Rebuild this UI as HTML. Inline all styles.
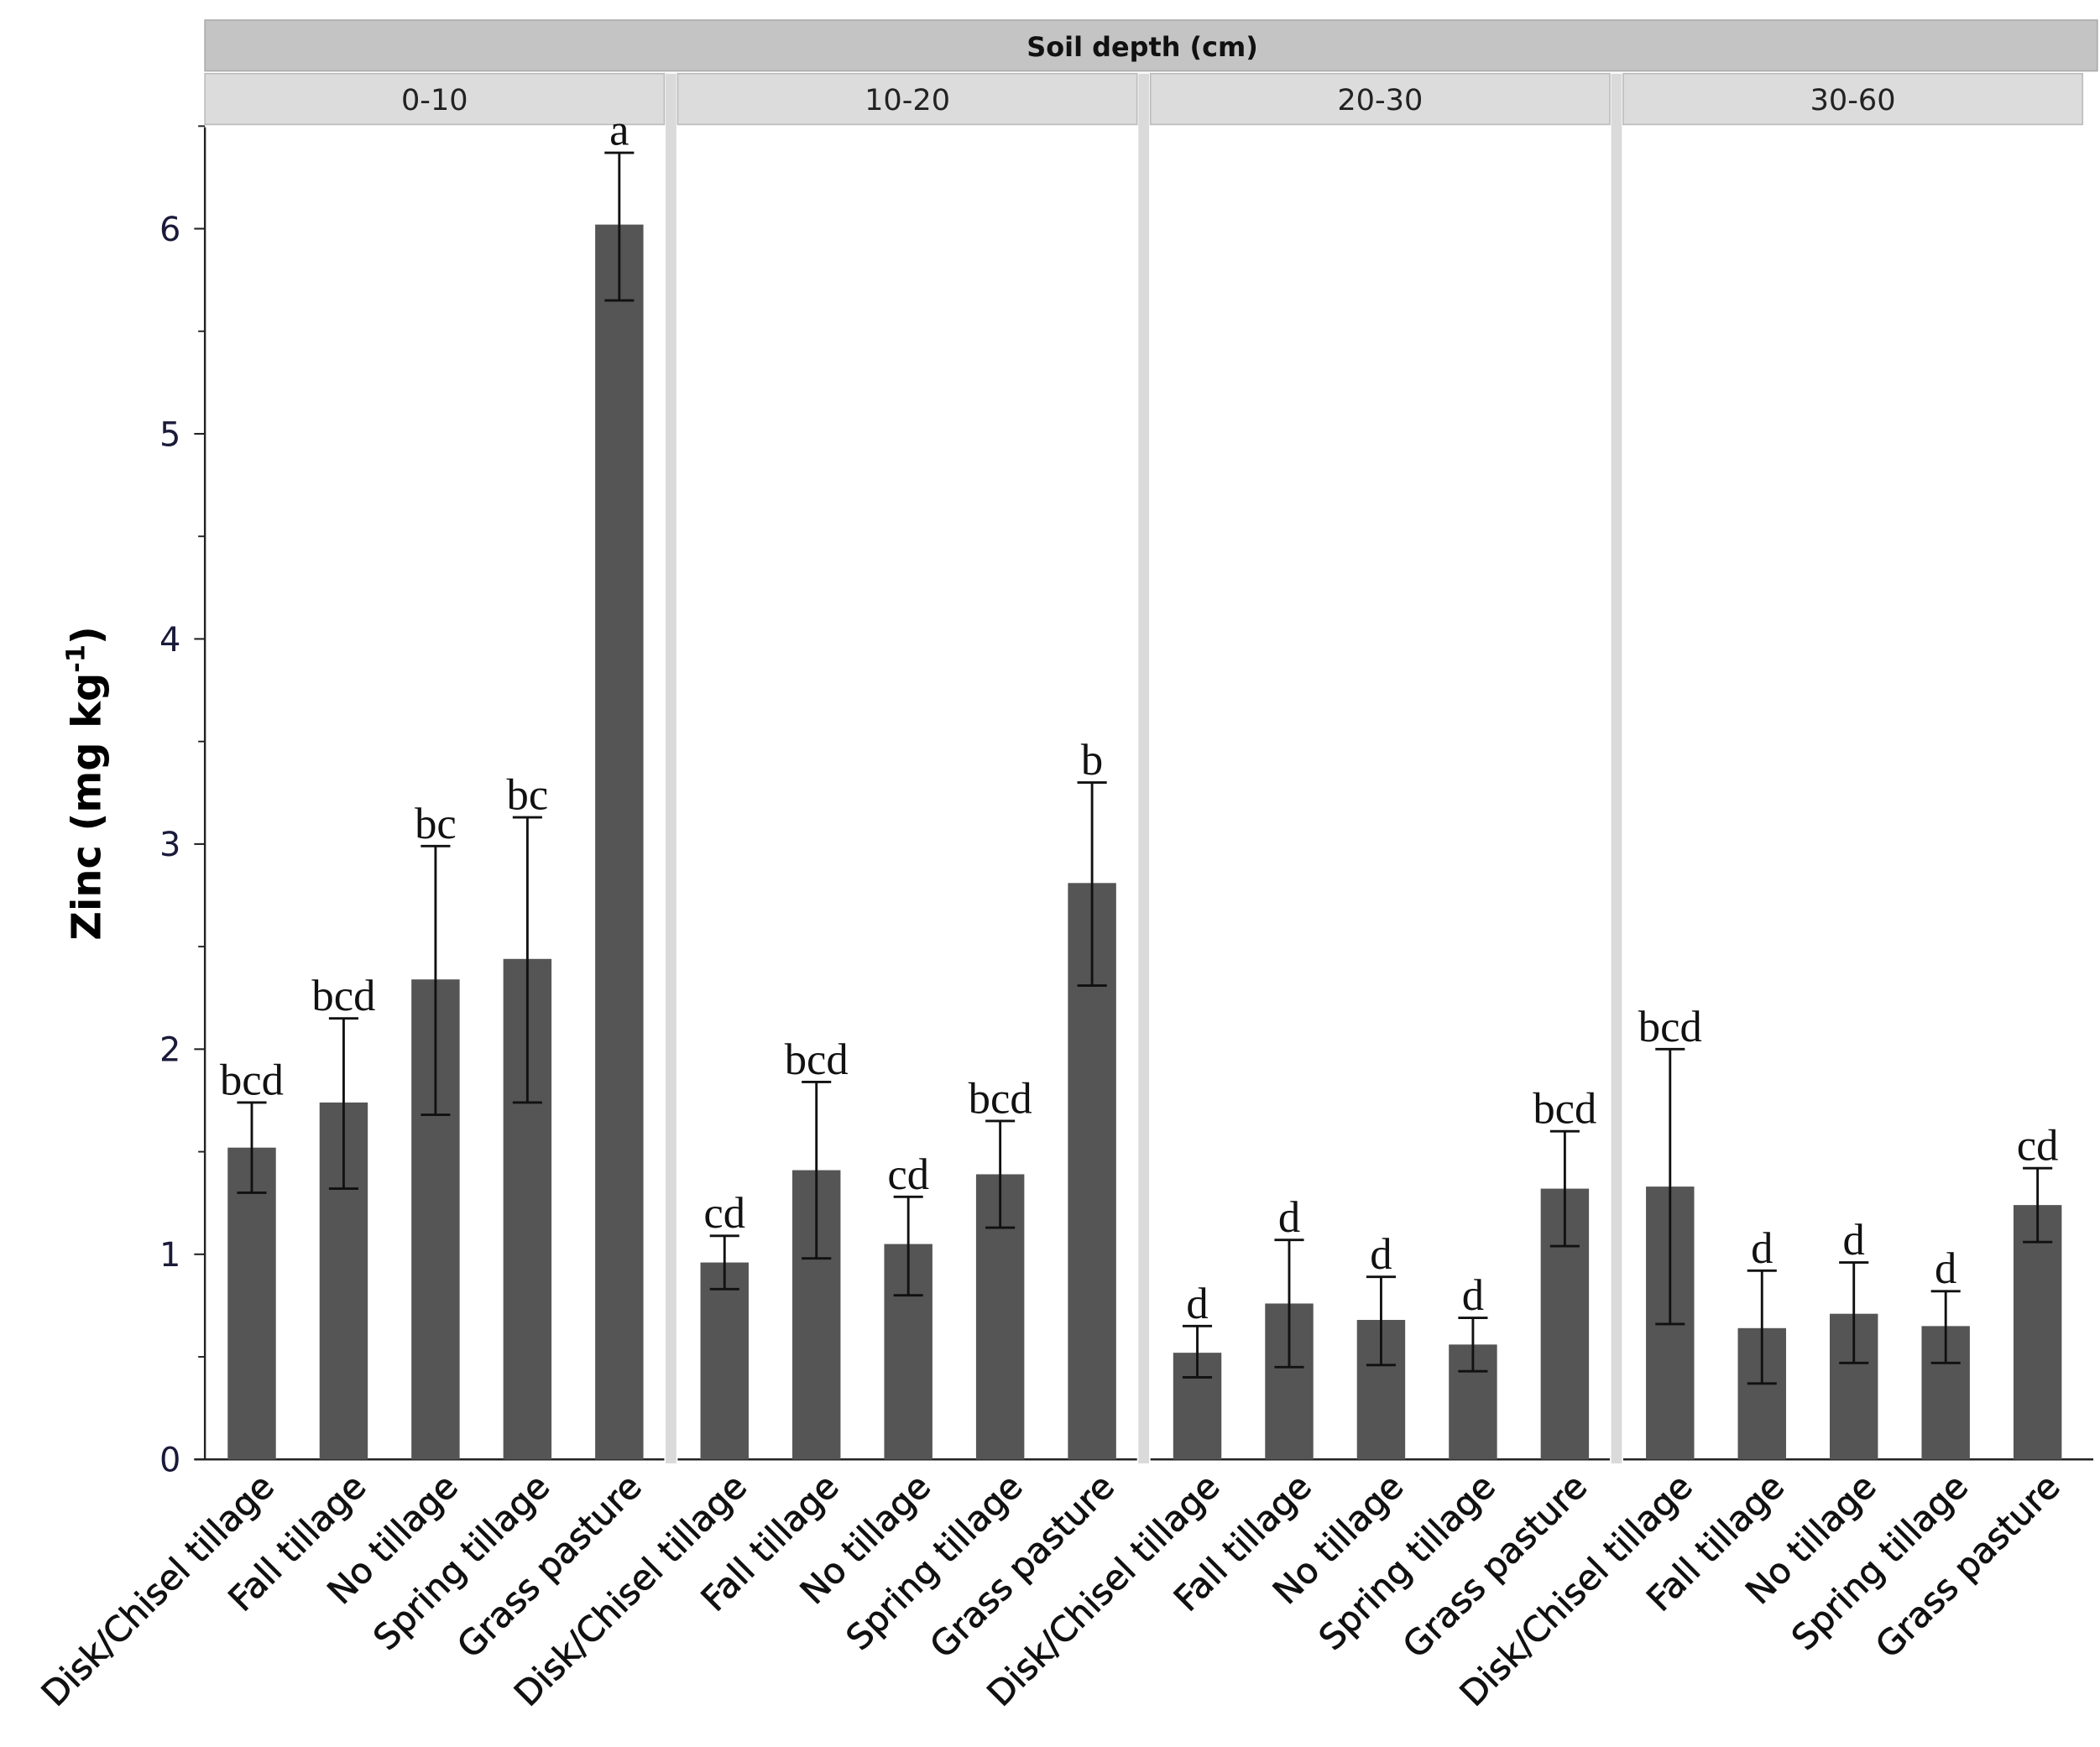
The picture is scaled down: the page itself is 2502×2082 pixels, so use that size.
<!DOCTYPE html>
<html><head><meta charset="utf-8"><style>
html,body{margin:0;padding:0;background:#fff;}
svg{display:block;}
</style></head><body>
<svg id="chart" width="2502" height="2082" viewBox="0 0 1568 1304.8" preserveAspectRatio="none" xmlns="http://www.w3.org/2000/svg">
<g id="strips"></g>
<g id="axes"></g>
<g id="bars"></g>
<text transform="translate(75,585) rotate(-90)" text-anchor="middle" font-family="'DejaVu Sans','Liberation Sans',sans-serif" font-weight="bold" font-size="30">Zinc (mg kg<tspan dy="-12" font-size="19">-1</tspan><tspan dy="12">)</tspan></text>
</svg>
<script>
const panels = ["0-10","10-20","20-30","30-60"];
const categories = ["Disk/Chisel tillage","Fall tillage","No tillage","Spring tillage","Grass pasture"];
const means = [[1.52,1.74,2.34,2.44,6.02],[0.96,1.41,1.05,1.39,2.81],[0.52,0.76,0.68,0.56,1.32],[1.33,0.64,0.71,0.65,1.24]];
const lows = [[1.30,1.32,1.68,1.74,5.65],[0.83,0.98,0.80,1.13,2.31],[0.40,0.45,0.46,0.43,1.04],[0.66,0.37,0.47,0.47,1.06]];
const highs = [[1.74,2.15,2.99,3.13,6.37],[1.09,1.84,1.28,1.65,3.30],[0.65,1.07,0.89,0.69,1.60],[2.00,0.92,0.96,0.82,1.42]];
const letters = [["bcd","bcd","bc","bc","a"],["cd","bcd","cd","bcd","b"],["d","d","d","d","bcd"],["bcd","d","d","d","cd"]];
const yTicks = [0,1,2,3,4,5,6];

const NS="http://www.w3.org/2000/svg";
const Y0=1090, UNIT=153.2;
const yS=v=>Y0-v*UNIT;
const panelX0=[153,506,859,1212], panelW=343;
const xS=(p,i)=>panelX0[p]+35+i*68.6;
function mk(tag,attrs,parent,txt){const e=document.createElementNS(NS,tag);for(const k in attrs)e.setAttribute(k,attrs[k]);if(txt!==undefined)e.textContent=txt;parent.appendChild(e);return e;}
const strips=document.getElementById('strips'),axes=document.getElementById('axes'),bars=document.getElementById('bars');

let s=mk('rect',{x:153,y:15,width:1413,height:38,fill:'#c4c4c4',stroke:'#aaa','stroke-width':1},strips);


let st=mk('text',{x:853,y:42,'text-anchor':'middle','font-family':"'DejaVu Sans','Liberation Sans',sans-serif",'font-weight':'bold','font-size':20,fill:'#111'},strips,'Soil depth (cm)');



panels.forEach((pn,p)=>{
  const x0=panelX0[p];
  const r=mk('rect',{x:x0,y:55,width:panelW,height:38,fill:'#dcdcdc',stroke:'#bbb','stroke-width':1},strips);
  
  
  const t=mk('text',{x:x0+panelW/2,y:82,'text-anchor':'middle','font-family':"'DejaVu Sans','Liberation Sans',sans-serif",'font-size':22,fill:'#222'},strips,pn);
  
  
  if(p<3){
    const sep=mk('rect',{x:x0+panelW+1,y:55,width:8,height:1038,fill:'#dadada'},strips);
    
    
  }
  const xl=mk('line',{x1:p===0?145:x0,x2:x0+panelW+(p===3?8:0),y1:Y0,y2:Y0,stroke:'#222','stroke-width':1.5},axes);
  
  
  categories.forEach((c,i)=>{
    const cx=xS(p,i), m=means[p][i];
    const b=mk('rect',{x:cx-18,y:yS(m),width:36,height:Y0-yS(m),fill:'#555'},bars);
    
    
    const g=mk('g',{stroke:'#111','stroke-width':1.8},bars);
    
    
    mk('line',{x1:cx,x2:cx,y1:yS(lows[p][i]),y2:yS(highs[p][i])},g);
    mk('line',{x1:cx-11,x2:cx+11,y1:yS(lows[p][i]),y2:yS(lows[p][i])},g);
    mk('line',{x1:cx-11,x2:cx+11,y1:yS(highs[p][i]),y2:yS(highs[p][i])},g);
    const lt=mk('text',{x:cx,y:yS(highs[p][i])-6,'text-anchor':'middle','font-family':"'Liberation Serif',serif",'font-size':33,fill:'#111'},bars,letters[p][i]);
    
    
    const xt=mk('text',{transform:`translate(${cx+18},${Y0+22}) rotate(-45)`,'text-anchor':'end','font-family':"'DejaVu Sans','Liberation Sans',sans-serif",'font-size':26,fill:'#111',stroke:'#111','stroke-width':0.5},axes,c);
    
    
  });
});
const ya=mk('line',{x1:153,x2:153,y1:95,y2:Y0,stroke:'#222','stroke-width':1.5},axes);


yTicks.forEach(v=>{
  mk('line',{x1:145,x2:153,y1:yS(v),y2:yS(v),stroke:'#222','stroke-width':1.3},axes);
  mk('line',{x1:148,x2:153,y1:yS(v+0.5),y2:yS(v+0.5),stroke:'#222','stroke-width':1.2},axes);
  const t=mk('text',{x:135,y:yS(v)+9,'text-anchor':'end','font-family':"'DejaVu Sans','Liberation Sans',sans-serif",'font-size':25,fill:'#1a1a3a'},axes,String(v));
  
  
});
</script>
</body></html>
